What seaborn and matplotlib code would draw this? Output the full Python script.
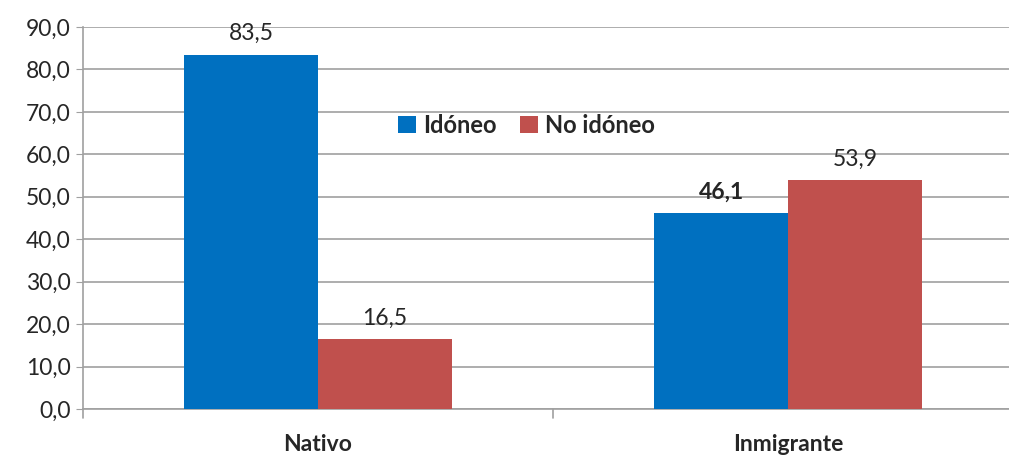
import matplotlib
matplotlib.use("Agg")
import matplotlib.pyplot as plt
import seaborn as sns
import pandas as pd

categories = ["Nativo", "Inmigrante"]
series_names = ["Idóneo", "No idóneo"]
idoneo = [83.5, 46.1]
no_idoneo = [16.5, 53.9]
yticks = [0, 10, 20, 30, 40, 50, 60, 70, 80, 90]
colors = ["#0070C0", "#C0504D"]

df = pd.DataFrame({
    "cat": categories * 2,
    "serie": [series_names[0]] * 2 + [series_names[1]] * 2,
    "val": idoneo + no_idoneo,
})

sns.set_style("white")
plt.rcParams["font.family"] = ["Lato", "DejaVu Sans"]

fig = plt.figure(figsize=(10.09, 4.57), dpi=100)
ax = fig.add_axes([83 / 1009, (457 - 409) / 457, 940 / 1009, 382 / 457])

sns.barplot(data=df, x="cat", y="val", hue="serie", palette=colors,
            width=0.57, ax=ax, saturation=1, legend=True, zorder=3,
            linewidth=0)

ax.set_xlim(-0.5, 1.5)
ax.set_ylim(0, 90)
ax.set_yticks(yticks)
ax.set_yticklabels([f"{v:.1f}".replace(".", ",") for v in yticks], fontsize=16.5)
ax.yaxis.grid(True, color="#A0A0A0", linewidth=1.2, zorder=0)
ax.set_axisbelow(True)

ax.set_xticks([0, 1])
ax.set_xticklabels(categories, fontsize=16.5, fontweight="bold")
ax.tick_params(axis="x", length=0, pad=18)
ax.tick_params(axis="y", length=5, color="#A0A0A0", left=True, pad=4)
for xb in [-0.5, 0.5, 1.5]:
    ax.plot([xb, xb], [0, -2.2], color="#A0A0A0", lw=1.2, clip_on=False)

for s in ["top", "right"]:
    ax.spines[s].set_visible(False)
for s in ["left", "bottom"]:
    ax.spines[s].set_color("#A0A0A0")
    ax.spines[s].set_linewidth(1.2)
ax.set_xlabel("")
ax.set_ylabel("")

for ci, container in enumerate(ax.containers):
    for j, bar in enumerate(container):
        v = bar.get_height()
        bold = (ci == 0 and j == 1)
        ax.text(bar.get_x() + bar.get_width() / 2, v + 2.5,
                f"{v:.1f}".replace(".", ","), ha="center", va="bottom",
                fontsize=16.5, fontweight="bold" if bold else "normal")

leg = ax.legend(loc="center", bbox_to_anchor=(0.472, 0.743),
                ncol=2, frameon=False, prop={"weight": "bold", "size": 17},
                handlelength=0.75, handleheight=0.75, handletextpad=0.3,
                columnspacing=1.0)
leg.set_title(None)

fig.savefig("out.png", dpi=100)
